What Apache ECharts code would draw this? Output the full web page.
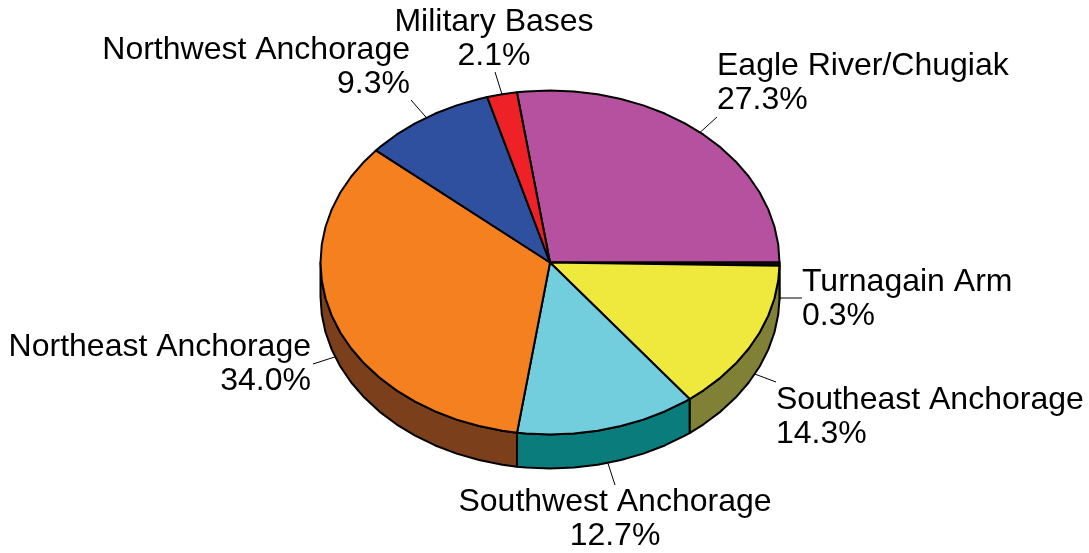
<!DOCTYPE html>
<html>
<head>
<meta charset="utf-8">
<title>Anchorage areas</title>
<script src="https://cdn.jsdelivr.net/npm/echarts@6/dist/echarts.min.js"></script>
<style>
  html, body { margin: 0; padding: 0; background: #fff; }
  #main { width: 1089px; height: 553px; }
</style>
</head>
<body>
<div id="main"></div>
<script>
// slices, clockwise from the Eagle River start
const categories = ['Eagle River/Chugiak', 'Turnagain Arm', 'Southeast Anchorage', 'Southwest Anchorage', 'Northeast Anchorage', 'Northwest Anchorage', 'Military Bases'];
const shares = [27.3, 0.3, 14.3, 12.7, 34.0, 9.3, 2.1];
const topColors = ['#b5519e', '#1c0a1a', '#f0e93d', '#72cddd', '#f58020', '#2f4f9f', '#ee2226'];
const wallColors = ['#6b2f5d', '#000000', '#808037', '#0b7c7c', '#7c3f1b', '#1c2f60', '#8e1416'];

// pie geometry
const cx = 550, cy = 262.5, rx = 229.5, ry = 172, depth = 34;
const startAngle = -8.3; // degrees clockwise from 12 o'clock
const facet = 6;

// label layout: leader end, text anchor, text align
const leaderEnds = [[717, 117], [802, 298], [776, 382], [615, 485], [313, 364], [411, 100], [495, 72]];
const textAnchors = [[717, 83], [802, 299], [776, 417], [615, 519], [311, 364], [410, 67], [494, 39]];
const textAligns = ['left', 'left', 'left', 'center', 'right', 'right', 'center'];

const pt = (deg, dy) => {
  const a = deg * Math.PI / 180;
  return [cx + rx * Math.sin(a), cy - ry * Math.cos(a) + (dy || 0)];
};

const arc = (from, to, dy) => {
  const out = [];
  // snap to a fixed faceting so neighbouring slices share the outline
  const first = Math.ceil(from / facet) * facet;
  out.push(pt(from, dy));
  for (let d = first; d < to; d += facet) {
    if (d > from) out.push(pt(d, dy));
  }
  out.push(pt(to, dy));
  return out;
};

const sliceAngles = (idx) => {
  let sum = 0;
  for (let i = 0; i < idx; i++) sum += shares[i];
  const from = startAngle + sum * 3.6;
  return [from, from + shares[idx] * 3.6];
};

const lineStyle = { stroke: '#000', lineWidth: 2, lineJoin: 'round' };

const renderSlice = (params, api) => {
  const idx = params.dataIndex;
  const [from, to] = sliceAngles(idx);
  const children = [];

  // side wall, only the front half of the pie shows it
  const wFrom = Math.max(from, 90);
  const wTo = Math.min(to, 270);
  if (wTo > wFrom) {
    const upper = arc(wFrom, wTo, 0);
    const lower = arc(wFrom, wTo, depth).reverse();
    children.push({
      type: 'polygon',
      shape: { points: upper.concat(lower) },
      style: Object.assign({ fill: wallColors[idx] }, lineStyle)
    });
  }

  // top face
  children.push({
    type: 'polygon',
    shape: { points: [[cx, cy]].concat(arc(from, to, 0)) },
    style: Object.assign({ fill: topColors[idx] }, lineStyle)
  });

  // leader starts on the outer edge at the slice middle
  const mid = (from + to) / 2;
  const norm = ((mid % 360) + 360) % 360;
  const start = pt(mid, norm > 90 && norm < 270 ? depth : 0);
  children.push({
    type: 'line',
    shape: { x1: start[0], y1: leaderEnds[idx][1] === 298 ? 298 : start[1], x2: leaderEnds[idx][0], y2: leaderEnds[idx][1] },
    style: { stroke: '#000', lineWidth: 1 }
  });

  children.push({
    type: 'text',
    x: textAnchors[idx][0],
    y: textAnchors[idx][1],
    style: {
      text: categories[idx] + '\n' + api.value(0).toFixed(1) + '%',
      font: '32px "Liberation Sans", Arial, sans-serif',
      fill: '#000',
      align: textAligns[idx],
      verticalAlign: 'middle',
      lineHeight: 34.5
    }
  });

  return { type: 'group', children: children };
};

const myChart = echarts.init(document.getElementById('main'), null, { renderer: 'canvas' });

myChart.setOption({
  backgroundColor: '#ffffff',
  animation: false,
  series: [
    {
      type: 'custom',
      coordinateSystem: 'none',
      silent: true,
      renderItem: renderSlice,
      data: shares.map((v, i) => ({ name: categories[i], value: [v] }))
    }
  ]
});
</script>
</body>
</html>
